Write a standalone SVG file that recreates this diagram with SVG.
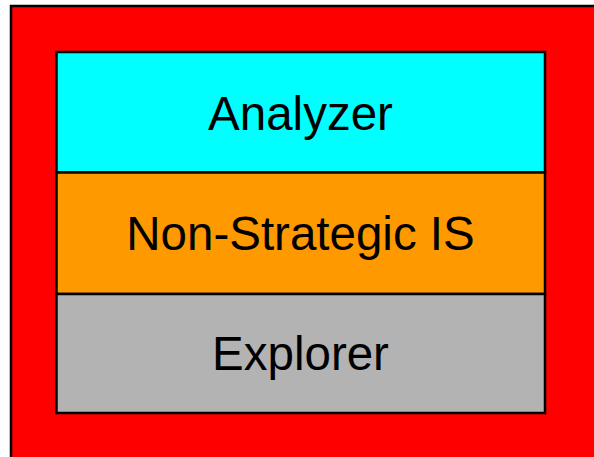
<svg xmlns="http://www.w3.org/2000/svg" width="594" height="457" viewBox="0 0 594 457">
<style>
.box{stroke:#000;stroke-width:2.5}
.lbl{font-family:"Liberation Sans",Arial,sans-serif;font-size:47.5px;fill:#000;text-anchor:middle}
</style>
<rect width="594" height="457" fill="#fff"/>
<g id="outer">
<rect x="11" y="6" width="620" height="500" fill="#ff0000" stroke="#000" stroke-width="2.5"/>
</g>
<g id="analyzer">
<rect class="box" x="56.5" y="52" width="488.5" height="120.5" fill="#00ffff"/>
<text class="lbl" x="300.5" y="129.5">Analyzer</text>
</g>
<g id="non-strategic">
<rect class="box" x="56.5" y="172.5" width="488.5" height="121.5" fill="#ff9900"/>
<text class="lbl" x="300.5" y="249.5">Non-Strategic IS</text>
</g>
<g id="explorer">
<rect class="box" x="56.5" y="294" width="488.5" height="119" fill="#b3b3b3"/>
<text class="lbl" x="300.5" y="369.5">Explorer</text>
</g>
<g id="connectors"/>
</svg>
